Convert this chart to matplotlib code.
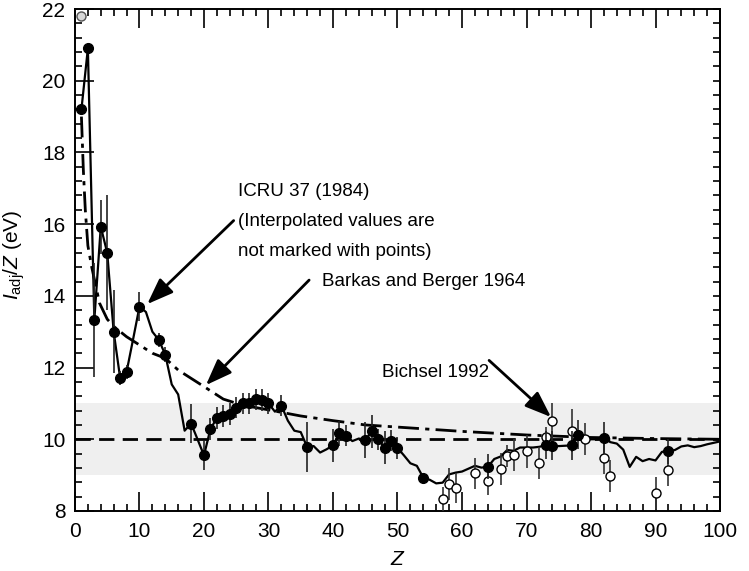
import matplotlib
matplotlib.use("Agg")
import matplotlib.pyplot as plt
from matplotlib.ticker import MultipleLocator

plt.rcParams['font.family'] = ['Liberation Sans', 'DejaVu Sans']
plt.rcParams['mathtext.fontset'] = 'custom'
plt.rcParams['mathtext.rm'] = 'Liberation Sans'
plt.rcParams['mathtext.it'] = 'Liberation Sans:italic'
plt.rcParams['lines.scale_dashes'] = False

# ICRU 37 (1984) I/Z, every element 1..100 (solid line)
icru_z = list(range(1, 101))
icru_v = [19.20, 20.90, 13.33, 15.93, 15.20, 13.00, 11.71, 11.88, 12.78, 13.70,
          13.55, 13.00, 12.77, 12.36, 11.53, 11.25, 10.24, 10.44, 10.00, 9.55,
          10.29, 10.59, 10.65, 10.71, 10.88, 11.00, 11.00, 11.11, 11.10, 11.00,
          10.77, 10.94, 10.52, 10.24, 10.20, 9.78, 9.81, 9.63, 9.72, 9.83,
          10.17, 10.10, 9.95, 10.02, 9.98, 10.22, 10.00, 9.77, 9.96, 9.76,
          9.55, 9.33, 9.26, 8.93, 8.87, 8.77, 8.79, 9.02, 9.07, 9.10,
          9.18, 9.26, 9.21, 9.23, 9.45, 9.52, 9.70, 9.68, 9.77, 9.77,
          9.77, 9.79, 9.84, 9.82, 9.81, 9.82, 9.83, 10.13, 10.00, 10.00,
          10.00, 10.04, 9.92, 9.88, 9.71, 9.23, 9.51, 9.39, 9.45, 9.41,
          9.65, 9.67, 9.70, 9.80, 9.83, 9.78, 9.81, 9.86, 9.90, 9.94]

# ICRU 37 values marked with points
pt_z = [1, 2, 3, 4, 5, 6, 7, 8, 10, 13, 14, 18, 20, 21, 22, 23, 24, 25, 26, 27,
        28, 29, 30, 32, 36, 40, 41, 42, 45, 46, 47, 48, 49, 50, 54, 64, 73, 74,
        77, 78, 82, 92]
pt_v = [19.20, 20.90, 13.33, 15.93, 15.20, 13.00, 11.71, 11.88, 13.70, 12.77,
        12.36, 10.44, 9.55, 10.29, 10.59, 10.65, 10.71, 10.88, 11.00, 11.00,
        11.11, 11.10, 11.00, 10.94, 9.78, 9.83, 10.17, 10.10, 9.98, 10.22,
        10.00, 9.77, 9.96, 9.76, 8.93, 9.23, 9.84, 9.82, 9.83, 10.13, 10.04, 9.67]
pt_err = [0.0, 0.0, 1.6, 0.75, 1.6, 1.15, 0.2, 0.2, 0.4, 0.2,
          0.2, 0.55, 0.4, 0.3, 0.3, 0.3, 0.3, 0.3, 0.3, 0.3,
          0.3, 0.3, 0.3, 0.3, 0.7, 0.45, 0.35, 0.3, 0.5, 0.45,
          0.3, 0.45, 0.3, 0.3, 0.0, 0.35, 0.4, 0.4, 0.4, 0.4, 0.45, 0.35]

# Bichsel 1992 (open circles)
bi_z = [57, 58, 59, 62, 64, 66, 67, 68, 70, 72, 73, 74, 77, 79, 82, 83, 90, 92]
bi_v = [8.33, 8.75, 8.63, 9.05, 8.84, 9.17, 9.54, 9.56, 9.66, 9.33, 10.05, 10.52,
        10.24, 10.00, 9.49, 8.98, 8.51, 9.14]
bi_err = [0.35, 0.45, 0.42, 0.43, 0.4, 0.45, 0.3, 0.45, 0.47, 0.45, 0.3, 0.5,
          0.6, 0.45, 0.45, 0.45, 0.45, 0.45]

# hydrogen open point at the top
h_z = [1]
h_v = [21.8]

# Barkas and Berger 1964 (dash-dot)
bb_z = [1, 1.3, 1.6, 2, 2.6, 3.8, 5, 6, 8, 10, 12, 14, 16, 18, 20, 23, 26, 30,
        35, 40, 45, 50, 60, 70, 80, 90, 100]
bb_v = [19.0, 17.5, 16.4, 15.4, 14.8, 13.8, 13.35, 13.15, 12.86, 12.63, 12.4,
        12.26, 11.93, 11.7, 11.47, 11.12, 10.95, 10.82, 10.65, 10.52, 10.4,
        10.34, 10.22, 10.12, 10.05, 10.02, 10.0]

fig = plt.figure(figsize=(7.49, 5.71), dpi=100)
ax = fig.add_axes([0.1001, 0.1051, 0.8612, 0.8791])

ax.axhspan(9, 11, color='#efefef', lw=0, zorder=0)
ax.plot([0, 100], [10, 10], color='k', lw=2.0, dashes=(11, 6), zorder=2)
ax.plot(bb_z, bb_v, color='k', lw=2.0, dashes=(15, 4.5, 3, 4.5), zorder=2)
ax.plot(icru_z, icru_v, color='k', lw=1.6, zorder=3)

ax.errorbar(bi_z, bi_v, yerr=bi_err, fmt='o', ms=6.5, mfc='white', mec='k',
            mew=1.0, ecolor='#333333', elinewidth=1.2, capsize=0, zorder=4)
ax.errorbar(pt_z, pt_v, yerr=pt_err, fmt='o', ms=7, mfc='k', mec='k',
            ecolor='#222222', elinewidth=1.2, capsize=0, zorder=5)
ax.plot(h_z, h_v, 'o', ms=6.5, mfc='#d8d8d8', mec='#555555', mew=1.0, zorder=5)

arrow = dict(arrowstyle='-|>,head_length=0.8,head_width=0.3', color='k',
             lw=2.0, mutation_scale=20, shrinkA=0, shrinkB=0)
ax.annotate('', xy=(11.2, 13.77), xytext=(24.6, 16.1), arrowprops=arrow)
ax.annotate('', xy=(20.3, 11.51), xytext=(36.3, 14.44), arrowprops=arrow)
ax.annotate('', xy=(73.8, 10.62), xytext=(64.2, 12.2), arrowprops=arrow)

ax.text(25.3, 16.90, 'ICRU 37 (1984)', fontsize=13.5, va='center')
ax.text(25.3, 16.06, '(Interpolated values are', fontsize=13.5, va='center')
ax.text(25.3, 15.25, 'not marked with points)', fontsize=13.5, va='center')
ax.text(38.3, 14.39, 'Barkas and Berger 1964', fontsize=13.5, va='center')
ax.text(47.6, 11.85, 'Bichsel 1992', fontsize=13.5, va='center')

ax.set_xlim(0, 100)
ax.set_ylim(8, 22)
ax.set_xticks(range(0, 101, 10))
ax.set_yticks(range(8, 23, 2))
ax.xaxis.set_minor_locator(MultipleLocator(2))
ax.yaxis.set_minor_locator(MultipleLocator(0.4))
ax.tick_params(which='both', direction='in', top=True, right=False,
               width=1.2, labelsize=15)
ax.tick_params(which='major', length=14)
ax.tick_params(which='minor', length=5)
ax.tick_params(axis='x', pad=8)
ax.tick_params(axis='y', pad=7)

sec = ax.secondary_yaxis('right')
sec.set_yticks(range(8, 23, 2))
sec.yaxis.set_minor_locator(MultipleLocator(0.4))
sec.tick_params(which='both', direction='in', length=5, width=1.2, labelright=False)
sec.spines['right'].set_linewidth(1.4)

for s in ax.spines.values():
    s.set_linewidth(1.4)

ax.set_xlabel('$Z$', fontsize=15)
ax.xaxis.set_label_coords(0.5, -0.078)
ax.set_ylabel(r'$I_{\mathrm{adj}}/Z$ (eV)', fontsize=15)
ax.yaxis.set_label_coords(-0.074, 0.51)

fig.savefig('out.png', dpi=100)
